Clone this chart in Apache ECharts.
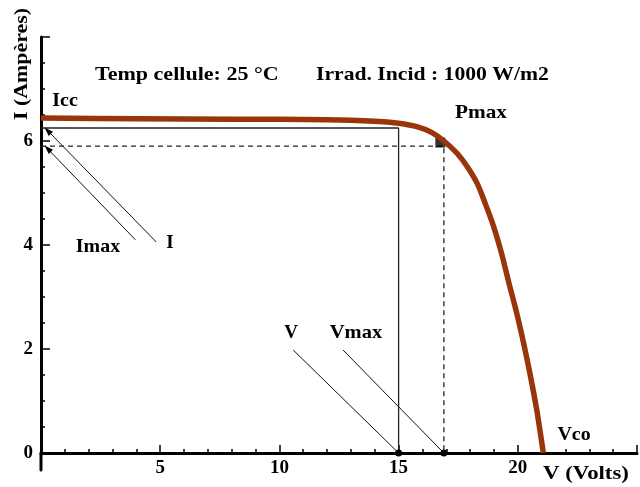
<!DOCTYPE html>
<html>
<head>
<meta charset="utf-8">
<script src="https://cdn.jsdelivr.net/npm/echarts@6/dist/echarts.min.js"></script>
<style>
  html, body { margin: 0; padding: 0; background: #fff; }
  #chart { width: 640px; height: 487px; }
</style>
</head>
<body>
<div id="chart"></div>
<script>
// I-V characteristic of a PV module (25 °C, 1000 W/m2)
const voltage = [0, 4, 8, 12, 14, 15, 15.8, 16.4, 16.9, 17.46, 17.875, 18.29, 18.625, 18.99, 19.33, 19.61, 19.96, 20.24, 20.5, 20.79, 21.07];
const current = [6.44, 6.43, 6.42, 6.41, 6.38, 6.34, 6.27, 6.16, 6.0, 5.76, 5.51, 5.19, 4.81, 4.35, 3.82, 3.30, 2.68, 2.12, 1.55, 0.84, 0];

// operating point (V, I) and maximum power point (Vmax, Imax)
const opV = 15, opI = 6.25;
const vMax = 16.9, iMax = 5.9;

const xTicks = [5, 10, 15, 20];
const yTicks = [0, 2, 4, 6];

// leader lines: [label anchor, target]
const pointerI    = [[4.83, 4.06], [0.28, 6.2]];
const pointerImax = [[3.96, 4.1], [0.28, 5.85]];
const pointerV    = [[10.58, 1.98], [opV, 0]];
const pointerVmax = [[12.67, 1.98], [vMax, 0]];

const serif = '"Liberation Serif", "Times New Roman", serif';
const brown = '#9a350b';

const chart = echarts.init(document.getElementById('chart'));

function leader(coords, sym) {
  return {
    type: 'line',
    data: [
      { value: coords[0], symbol: 'none' },
      {
        value: coords[1], symbol: sym,
        symbolSize: sym === 'circle' ? 7 : [6, 9],
        symbolRotate: sym === 'circle' ? 0 : 45
      }
    ],
    showAllSymbol: true,
    lineStyle: { color: '#111', width: 1 },
    itemStyle: { color: '#000', borderWidth: 0 },
    z: 3,
    silent: true
  };
}

const txt = (x, y, s, size, align, sx) => ({
  type: 'text', x: x, y: y, scaleX: sx || 1,
  style: {
    text: s, fill: '#000', font: 'bold ' + size + 'px ' + serif,
    textAlign: align || 'center', textVerticalAlign: 'middle'
  },
  silent: true
});

chart.setOption({
  animation: false,
  backgroundColor: '#fff',
  grid: { left: 41, top: 37, width: 600, height: 416, containLabel: false },
  xAxis: {
    type: 'value', min: 0, max: 25, interval: 5,
    axisLine: { lineStyle: { color: '#000', width: 3 } },
    axisTick: { inside: true, length: 8, lineStyle: { color: '#000', width: 1.5 } },
    minorTick: { show: true, splitNumber: 5, length: 4, lineStyle: { color: '#000', width: 1.5 } },
    splitLine: { show: false },
    axisLabel: {
      color: '#000', fontFamily: serif, fontWeight: 'bold', fontSize: 19, margin: 6,
      formatter: v => (xTicks.indexOf(v) >= 0 ? String(v) : '')
    }
  },
  yAxis: {
    type: 'value', min: 0, max: 8, interval: 2,
    axisLine: { lineStyle: { color: '#000', width: 3 } },
    axisTick: { inside: true, length: 9, lineStyle: { color: '#000', width: 1.5 } },
    minorTick: { show: true, splitNumber: 4, length: 4, lineStyle: { color: '#000', width: 1.5 } },
    splitLine: { show: false },
    axisLabel: {
      color: '#000', fontFamily: serif, fontWeight: 'bold', fontSize: 19, margin: 8,
      formatter: v => (yTicks.indexOf(v) >= 0 ? String(v) : '')
    }
  },
  series: [
    {
      name: 'rectangle V-I',
      type: 'line',
      data: [[0, opI], [opV, opI], [opV, 0]],
      symbol: 'none',
      lineStyle: { color: '#222', width: 1.3 },
      z: 2, silent: true
    },
    {
      name: 'rectangle Vmax-Imax',
      type: 'line',
      data: [[0, iMax], [vMax, iMax], [vMax, 0]],
      symbol: 'none',
      lineStyle: { color: '#222', width: 1.3, type: [5, 4] },
      z: 2, silent: true
    },
    leader(pointerI, 'triangle'),
    leader(pointerImax, 'triangle'),
    leader(pointerV, 'circle'),
    leader(pointerVmax, 'circle'),
    {
      name: 'Pmax',
      type: 'scatter',
      data: [[16.75, 5.97]],
      symbol: 'rect',
      symbolSize: 10,
      itemStyle: { color: '#000' },
      z: 4, silent: true
    },
    {
      name: 'I(V)',
      type: 'line',
      data: voltage.map((v, i) => [v, current[i]]),
      smooth: 0.3,
      symbol: 'none',
      lineStyle: { color: brown, width: 5.5 },
      z: 5, silent: true
    }
  ],
  graphic: [
    txt(95, 75, 'Temp cellule: 25 °C', 19, 'left', 1.16),
    txt(316, 75, 'Irrad. Incid : 1000 W/m2', 19, 'left', 1.14),
    txt(65, 101, 'Icc', 19, 'center', 1.05),
    txt(481, 113, 'Pmax', 19, 'center', 1.12),
    txt(98, 247, 'Imax', 19, 'center', 1.05),
    txt(170, 243, 'I', 19),
    txt(291, 333, 'V', 19),
    txt(356, 333, 'Vmax', 19, 'center', 1.08),
    txt(574, 435, 'Vco', 19, 'center', 1.05),
    txt(543, 474, 'V (Volts)', 19, 'left', 1.2),
    {
      type: 'text', x: 22, y: 64, rotation: Math.PI / 2, scaleX: 1.15,
      style: {
        text: 'I (Ampères)', fill: '#000', font: 'bold 19px ' + serif,
        textAlign: 'center', textVerticalAlign: 'middle'
      },
      silent: true
    },
    {
      type: 'line',
      shape: { x1: 41, y1: 453, x2: 41, y2: 470 },
      style: { stroke: '#000', lineWidth: 3, lineCap: 'round' },
      silent: true
    }
  ]
});
</script>
</body>
</html>
